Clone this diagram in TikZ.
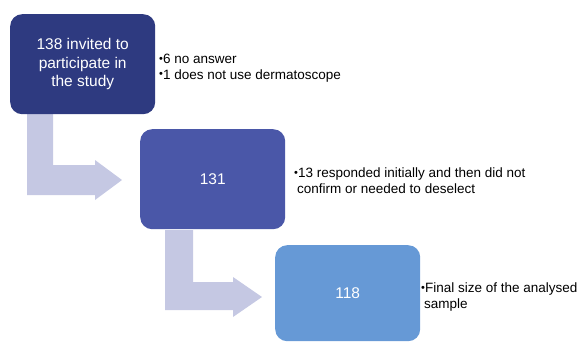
\documentclass[tikz,border=0pt]{standalone}
\usepackage{fontspec}
\setmainfont{Liberation Sans}
\definecolor{boxA}{HTML}{2E3A80}
\definecolor{boxB}{HTML}{4A57A8}
\definecolor{boxC}{HTML}{6699D6}
\definecolor{arr}{HTML}{C5C8E3}
\newcommand{\bul}{{\fontsize{11}{11}\selectfont\raisebox{1.4pt}{•}}}
\begin{document}
\begin{tikzpicture}[x=1pt,y=-1pt,
  stagebox/.style={rounded corners=12pt,minimum width=145pt,minimum height=100pt,inner sep=0pt,text=white,align=center,font=\fontsize{15.5}{18.5}\selectfont},
  note/.style={anchor=north west,align=left,inner sep=0pt,font=\fontsize{13.5}{15.5}\selectfont}]
\useasboundingbox (0,0) rectangle (581,343);
% arrows
\fill[arr] (27,114) -- (53,114) -- (53,165) -- (95,165) -- (95,160) -- (122,180) -- (95,200) -- (95,195) -- (27,195) -- cycle;
\fill[arr] (165,230) -- (193,230) -- (193,282) -- (233,282) -- (233,277) -- (262,297) -- (233,317) -- (233,310) -- (165,310) -- cycle;
% boxes
\node[stagebox,fill=boxA,anchor=north west] (b1) at (10,14) {138 invited to\\participate in\\the study};
\node[stagebox,fill=boxB,anchor=north west] (b2) at (140,129) {131};
\node[stagebox,fill=boxC,anchor=north west,minimum height=96pt] (b3) at (275,245) {118};
% notes
\node[note] (n1) at (159,54) {\bul6 no answer\\\bul1 does not use dermatoscope};
\node[note] (n2) at (294,168) {\bul13 responded initially and then did not\\\hspace*{3pt}confirm or needed to deselect};
\node[note] (n3) at (421,283) {\bul Final size of the analysed\\\hspace*{3pt}sample};
\end{tikzpicture}
\end{document}
